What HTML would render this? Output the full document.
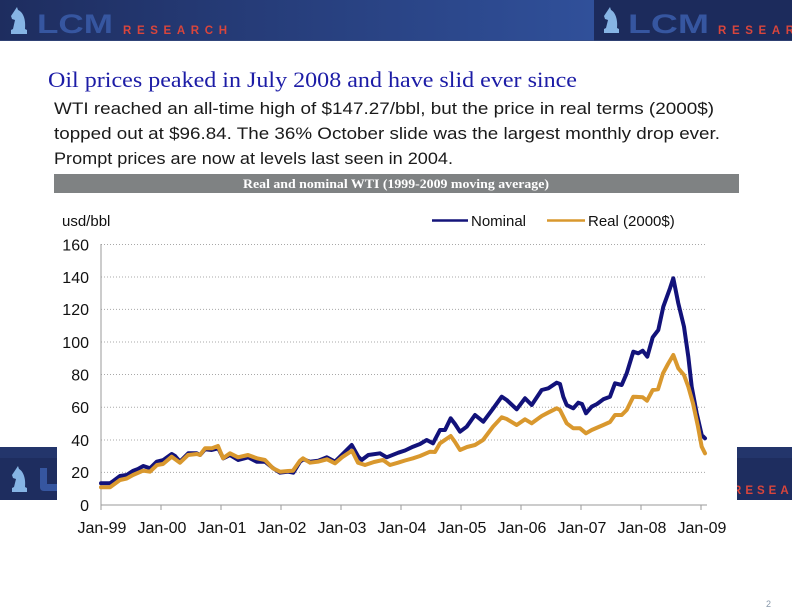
<!DOCTYPE html>
<html>
<head>
<meta charset="utf-8">
<style>
  html,body{margin:0;padding:0;background:#fff;}
  svg{display:block;}
</style>
</head>
<body>
<svg width="792" height="612" viewBox="0 0 792 612" xmlns="http://www.w3.org/2000/svg">
  <defs>
    <linearGradient id="hdr" x1="0" y1="0" x2="1" y2="0">
      <stop offset="0" stop-color="#1e2d5f"/>
      <stop offset="1" stop-color="#30509a"/>
    </linearGradient>
  </defs>
  <rect x="0" y="0" width="792" height="612" fill="#ffffff"/>

  <!-- Header band -->
  <rect x="0" y="0" width="594" height="41" fill="url(#hdr)"/>
  <rect x="594" y="0" width="198" height="41" fill="#1c2b5c"/>
  <rect x="0" y="40" width="792" height="1" fill="#3a4f80" opacity="0.6"/>

  <!-- Left logo -->
  <path d="M11,34 L27,34 L27,30 L25,29 C26,19 23,12 18,10 L17,7 L15,10 L11,16 L12,19 L15,20 L13,29 L11,30 Z" fill="#86b4e4"/>
  <text x="37" y="33" font-family="Liberation Sans, sans-serif" font-weight="bold" font-size="27" fill="#3656a0" textLength="76" lengthAdjust="spacingAndGlyphs">LCM</text>
  <text x="123" y="34" font-family="Liberation Sans, sans-serif" font-weight="bold" font-size="11.5" fill="#d8453c" textLength="104" lengthAdjust="spacing">RESEARCH</text>

  <!-- Right logo -->
  <path d="M604,33 L619,33 L619,29 L617,28 C618,19 615,12 611,10 L610,7 L608,10 L604,16 L605,19 L608,20 L606,28 L604,29 Z" fill="#86b4e4"/>
  <text x="628" y="33" font-family="Liberation Sans, sans-serif" font-weight="bold" font-size="27" fill="#3656a0" textLength="81" lengthAdjust="spacingAndGlyphs">LCM</text>
  <text x="718" y="34" font-family="Liberation Sans, sans-serif" font-weight="bold" font-size="11.5" fill="#d8453c" textLength="104" lengthAdjust="spacing">RESEARCH</text>

  <!-- Title -->
  <text x="48" y="87" font-family="Liberation Serif, serif" font-size="22" fill="#1c1ca6" textLength="529" lengthAdjust="spacingAndGlyphs">Oil prices peaked in July 2008 and have slid ever since</text>

  <!-- Paragraph -->
  <g font-family="Liberation Sans, sans-serif" font-size="16.5" fill="#1a1a1a">
    <text x="54" y="114" textLength="660" lengthAdjust="spacingAndGlyphs">WTI reached an all-time high of $147.27/bbl, but the price in real terms (2000$)</text>
    <text x="54" y="139" textLength="666" lengthAdjust="spacingAndGlyphs">topped out at $96.84. The 36% October slide was the largest monthly drop ever.</text>
    <text x="54" y="164" textLength="399" lengthAdjust="spacingAndGlyphs">Prompt prices are now at levels last seen in 2004.</text>
  </g>

  <!-- Gray chart title bar -->
  <rect x="54" y="174" width="685" height="19" fill="#7f8283"/>
  <text x="396" y="188" text-anchor="middle" font-family="Liberation Serif, serif" font-weight="bold" font-size="12.5" fill="#ffffff" textLength="306" lengthAdjust="spacingAndGlyphs">Real and nominal WTI (1999-2009 moving average)</text>

  <!-- Bottom fragments (logo pieces) -->
  <rect x="0" y="447" width="57" height="53" fill="#1e2d5f"/>
  <rect x="0" y="447" width="57" height="11" fill="#23356b"/>
  <path d="M12,492 L27,492 L27,488 L25,487 C26,478 23,471 19,469 L18,466 L16,469 L12,475 L13,478 L16,479 L14,487 L12,488 Z" fill="#86b4e4"/>
  <path d="M40,468 L47,468 L47,484 L57,484 L57,491 L44,491 C41,491 40,489 40,487 Z" fill="#3656a0"/>
  <rect x="737" y="447" width="55" height="53" fill="#1e2d5f"/>
  <rect x="737" y="447" width="55" height="11" fill="#23356b"/>
  <text x="733" y="494" font-family="Liberation Sans, sans-serif" font-weight="bold" font-size="11.5" fill="#d8453c" textLength="68" lengthAdjust="spacing">RESEAR</text>
  <rect x="730" y="447" width="7" height="53" fill="#ffffff"/>

  <!-- Gridlines -->
  <g stroke="#a8a8a8" stroke-width="1" stroke-dasharray="1,2" fill="none">
    <line x1="101" y1="244.5" x2="707" y2="244.5"/>
    <line x1="101" y1="277" x2="707" y2="277"/>
    <line x1="101" y1="309.4" x2="707" y2="309.4"/>
    <line x1="101" y1="342" x2="707" y2="342"/>
    <line x1="101" y1="374.5" x2="707" y2="374.5"/>
    <line x1="101" y1="407.3" x2="707" y2="407.3"/>
    <line x1="101" y1="440" x2="707" y2="440"/>
    <line x1="101" y1="472.4" x2="707" y2="472.4"/>
  </g>

  <!-- Axes -->
  <g stroke="#9a9a9a" stroke-width="1" fill="none">
    <line x1="101" y1="244" x2="101" y2="505"/>
    <line x1="101" y1="505" x2="707" y2="505"/>
    <line x1="101" y1="505" x2="101" y2="510"/>
    <line x1="161" y1="505" x2="161" y2="510"/>
    <line x1="221" y1="505" x2="221" y2="510"/>
    <line x1="281" y1="505" x2="281" y2="510"/>
    <line x1="341" y1="505" x2="341" y2="510"/>
    <line x1="401" y1="505" x2="401" y2="510"/>
    <line x1="461" y1="505" x2="461" y2="510"/>
    <line x1="521" y1="505" x2="521" y2="510"/>
    <line x1="581" y1="505" x2="581" y2="510"/>
    <line x1="641" y1="505" x2="641" y2="510"/>
    <line x1="701" y1="505" x2="701" y2="510"/>
  </g>

  <!-- Axis labels -->
  <g font-family="Liberation Sans, sans-serif" font-size="16" fill="#111">
    <text x="62" y="226" font-size="15">usd/bbl</text>
    <g text-anchor="end">
      <text x="89" y="250.3">160</text>
      <text x="89" y="282.8">140</text>
      <text x="89" y="315.2">120</text>
      <text x="89" y="347.8">100</text>
      <text x="89" y="380.3">80</text>
      <text x="89" y="413.1">60</text>
      <text x="89" y="445.8">40</text>
      <text x="89" y="478.2">20</text>
      <text x="89" y="510.8">0</text>
    </g>
    <g text-anchor="middle">
      <text x="102" y="533">Jan-99</text>
      <text x="162" y="533">Jan-00</text>
      <text x="222" y="533">Jan-01</text>
      <text x="282" y="533">Jan-02</text>
      <text x="342" y="533">Jan-03</text>
      <text x="402" y="533">Jan-04</text>
      <text x="462" y="533">Jan-05</text>
      <text x="522" y="533">Jan-06</text>
      <text x="582" y="533">Jan-07</text>
      <text x="642" y="533">Jan-08</text>
      <text x="702" y="533">Jan-09</text>
    </g>
  </g>

  <!-- Legend -->
  <line x1="432" y1="220.5" x2="468" y2="220.5" stroke="#14147a" stroke-width="2.5"/>
  <text x="471" y="226" font-family="Liberation Sans, sans-serif" font-size="15" fill="#111">Nominal</text>
  <line x1="547" y1="220.5" x2="585" y2="220.5" stroke="#d9982e" stroke-width="2.5"/>
  <text x="588" y="226" font-family="Liberation Sans, sans-serif" font-size="15" fill="#111">Real (2000$)</text>

  <!-- Nominal series -->
  <polyline fill="none" stroke="#12127a" stroke-width="4" stroke-linejoin="round" stroke-linecap="round"
    points="101,483.3 110,483.3 113.3,481 120,476 126.7,475 133.3,470.7 138,469 143.3,466 150,468.3 156.7,461.7 163.3,460 171.7,454 175,456 180,461.7 188.3,453.3 196.7,453.3 200,455 205,449.3 211.7,450 218.3,448.3 223.3,458.3 230,455 238.3,460 248.3,457.3 256.7,461.7 265,461.7 273.3,468.3 280,472.7 288.3,471.7 293.3,472.7 300,461.7 303.3,459.3 310,461.7 318.3,460.7 326.7,457.3 335,461.7 341.7,455 351.7,445 358.3,456.7 361.7,460 368.3,455 380,453.3 386.7,457.3 398.3,452.7 405,450.5 413,446.7 420,444 426.7,440 433,443.3 440,430 445,430 450.7,418.3 455,424 460,431.7 466.7,426.7 475,415 483.3,421.7 493.3,408.3 501.7,396.7 506.7,400 511,404 516.7,409.3 525,398.3 531.7,405 541.7,390 548.3,388.3 556.7,382.7 560,384 563.3,396.7 566.7,405 570,406.7 573.3,408.3 578.3,402.7 582,404 586,413.3 591.7,406.7 597,404 603.3,399.3 610,396.7 615,383.3 621.7,385 626.7,373.3 633.3,351.7 638.3,353.3 642.7,350.7 647.3,356.7 652.7,337.3 658.3,330 663.3,306.7 670,288.3 673.3,278.3 678.3,303.3 684,326.7 688.3,356.7 691.7,386.7 696.7,413.3 701.7,435 705,438.3"/>

  <!-- Real series -->
  <polyline fill="none" stroke="#d9982e" stroke-width="4" stroke-linejoin="round" stroke-linecap="round"
    points="101,487.3 110,487.3 120,480 126.7,478.5 133,475 143,470.7 150,471.7 157,465 163,464 171.7,456.7 180,462.7 188,455 197,454 200,455 205,448.3 212,448.3 218,446 223,458.3 230,453.3 238,457.3 248,455 257,458.3 265,460 273,468.3 280,471.7 288,471 293,470.7 300,460.7 303,458.3 310,462.7 318,461.7 327,459.3 335,463.3 342,457.3 352,450.7 358,462.7 365,465 374,462 383,460 390,465 398,462.7 405,460.5 413,458.3 420,456 430,451.7 435,452 440,443.3 450.7,436 455,442 460,450 467,447 475,445 483,440 493,426.7 501.7,417.3 506.7,419 516.7,425 525,419.3 531.7,423.3 541.7,416 548,412.7 556.7,408.3 560,410 566.7,423.3 573.3,428.3 580,428.3 586,433.3 591.7,430 603.3,425 610,422 615,415 621.7,415 626.7,410 633.3,396.7 642.7,397.3 647,400.7 652.7,390 658,389.3 663,373.3 668,364 673.3,355 678.3,368.3 684,375 688.3,386.7 693,403.3 698,426.7 701.7,446.7 705,453.3"/>

  <!-- Page number -->
  <text x="766" y="607" font-family="Liberation Sans, sans-serif" font-size="9" fill="#8898aa">2</text>
</svg>
</body>
</html>
